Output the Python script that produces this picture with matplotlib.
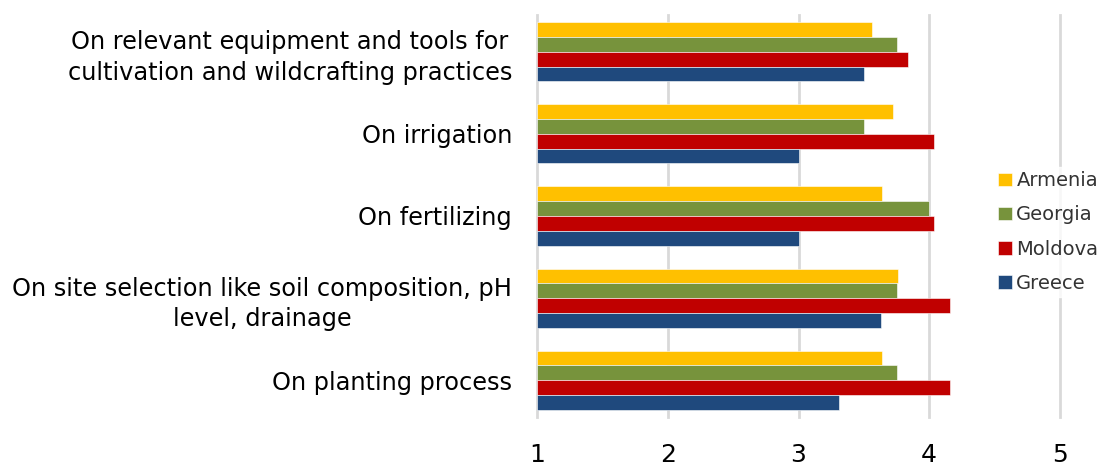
import numpy as np
import matplotlib.pyplot as plt

# categories listed bottom to top (as drawn)
categories = [
    "On planting process",
    "On site selection like soil composition, pH\nlevel, drainage",
    "On fertilizing",
    "On irrigation",
    "On relevant equipment and tools for\ncultivation and wildcrafting practices",
]
armenia = [3.64, 3.76, 3.64, 3.72, 3.56]
georgia = [3.75, 3.75, 4.00, 3.50, 3.75]
moldova = [4.16, 4.16, 4.04, 4.04, 3.84]
greece = [3.31, 3.63, 3.00, 3.00, 3.50]
x_ticks = [1, 2, 3, 4, 5]

series = [
    ("Armenia", armenia, "#FFC000"),
    ("Georgia", georgia, "#77933C"),
    ("Moldova", moldova, "#C00000"),
    ("Greece", greece, "#1F497D"),
]

plt.rcParams["font.family"] = ["DejaVu Sans"]

fig = plt.figure(figsize=(11.07, 4.66), dpi=100)
ax = fig.add_axes([537 / 1107, 1 - 417 / 466, (1060 - 537) / 1107, (417 - 15) / 466])

y = np.arange(len(categories))
h = 0.18
for i, (name, vals, col) in enumerate(series):
    offset = (1.5 - i) * h
    ax.barh(y + offset, np.array(vals) - 1, left=1, height=h, color=col,
            edgecolor="white", linewidth=0.4, label=name, zorder=3)

ax.set_xlim(1, 5)
ax.set_ylim(-0.45, 4.45)
ax.set_xticks(x_ticks)
ax.set_xticklabels([str(t) for t in x_ticks], fontsize=18)
ax.set_yticks(y)
ax.set_yticklabels(categories, fontsize=17.3, multialignment="center", linespacing=1.35)
ax.tick_params(axis="both", length=0)
ax.tick_params(axis="x", pad=19)
ax.tick_params(axis="y", pad=18)
ax.grid(axis="x", color="#D9D9D9", linewidth=2, zorder=0)
for gl in ax.get_xgridlines():
    gl.set_clip_on(False)
for s in ax.spines.values():
    s.set_visible(False)

handles, labels = ax.get_legend_handles_labels()
leg = fig.legend(handles, labels, loc="center left", bbox_to_anchor=(994 / 1107, 1 - 232 / 466),
                 frameon=True, fontsize=14, handlelength=0.7, handleheight=0.7,
                 handletextpad=0.25, labelspacing=0.78, borderpad=0.2, borderaxespad=0)
leg.get_frame().set_facecolor("white")
leg.get_frame().set_edgecolor("white")
for t in leg.get_texts():
    t.set_color("#333333")

fig.savefig("out.png", dpi=100)
